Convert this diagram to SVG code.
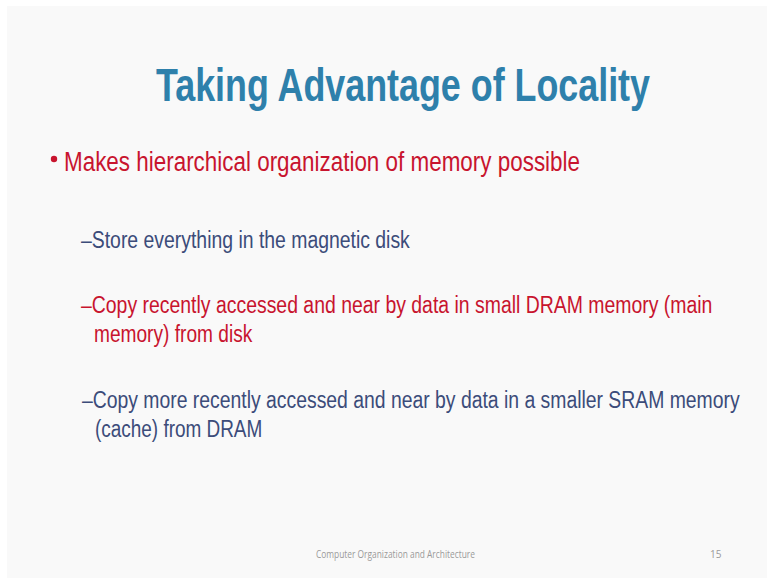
<svg xmlns="http://www.w3.org/2000/svg" width="767" height="578" viewBox="0 0 767 578">
  <style>
    .title { font-family: "Liberation Sans", Arial, sans-serif; font-weight: bold; font-size: 47px; fill: #2e80ab; }
    .body { font-family: "Liberation Sans", Arial, sans-serif; }
    .lvl1 { font-size: 28px; }
    .lvl2 { font-size: 23px; }
    .red { fill: #c8142e; }
    .navy { fill: #3c4c7a; }
    .foot { font-family: "Open Sans", "Liberation Sans", sans-serif; font-size: 10px; fill: #9a9a9a; }
  </style>

  <!-- page and slide surface -->
  <rect x="0" y="0" width="767" height="578" fill="#ffffff"/>
  <rect x="7" y="6" width="760" height="572" fill="#f9f9f9"/>

  <!-- heading (condensed via horizontal scale) -->
  <text class="title" transform="translate(156,101) scale(0.76,1)" x="0" y="0" textLength="650" lengthAdjust="spacingAndGlyphs">Taking Advantage of Locality</text>

  <!-- first-level bullet -->
  <g id="bullet-main">
    <circle cx="54" cy="159" r="3.2" fill="#c8142e"/>
    <text class="body lvl1 red" transform="translate(64,171) scale(0.8,1)" x="0" y="0" textLength="645" lengthAdjust="spacingAndGlyphs">Makes hierarchical organization of memory possible</text>
  </g>

  <!-- second-level items -->
  <g id="item-disk">
    <text class="body lvl2 navy" transform="translate(81,248) scale(0.82,1)" x="0" y="0" textLength="401" lengthAdjust="spacingAndGlyphs">–Store everything in the magnetic disk</text>
  </g>

  <g id="item-dram">
    <text class="body lvl2 red" transform="translate(81,313) scale(0.82,1)" x="0" y="0" textLength="770" lengthAdjust="spacingAndGlyphs">–Copy recently accessed and near by data in small DRAM memory (main</text>
    <text class="body lvl2 red" transform="translate(94,342) scale(0.82,1)" x="0" y="0" textLength="193" lengthAdjust="spacingAndGlyphs">memory) from disk</text>
  </g>

  <g id="item-sram">
    <text class="body lvl2 navy" transform="translate(82,408) scale(0.82,1)" x="0" y="0" textLength="802" lengthAdjust="spacingAndGlyphs">–Copy more recently accessed and near by data in a smaller SRAM memory</text>
    <text class="body lvl2 navy" transform="translate(95,437) scale(0.82,1)" x="0" y="0" textLength="204" lengthAdjust="spacingAndGlyphs">(cache) from DRAM</text>
  </g>

  <!-- footer -->
  <text class="foot" x="316" y="558" textLength="159" lengthAdjust="spacingAndGlyphs">Computer Organization and Architecture</text>
  <text class="foot" x="710" y="558">15</text>
</svg>
